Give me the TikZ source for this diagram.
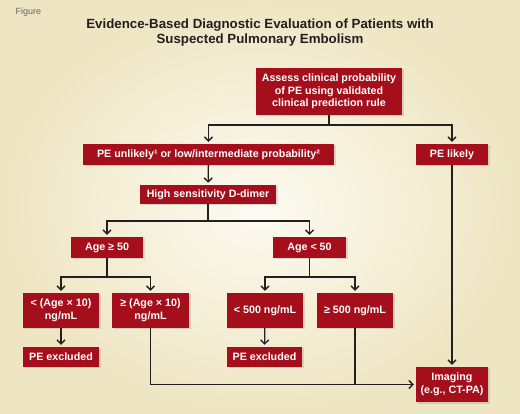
\documentclass[tikz,border=0pt]{standalone}
\usepackage{fontspec}
\setmainfont{Liberation Sans}
\usetikzlibrary{arrows.meta,shadows}

\definecolor{boxred}{HTML}{A50F1B}
\definecolor{linegray}{HTML}{231F20}
\definecolor{titlegray}{HTML}{231F20}
\definecolor{bglight}{HTML}{FDFBF1}
\definecolor{bgdark}{HTML}{EEE5C2}

\tikzset{
  stepbox/.style={fill=boxred, text=white, align=center, inner sep=0pt,
    font=\bfseries\fontsize{10.7}{12.5}\selectfont,
    drop shadow={opacity=0.25, shadow xshift=1.5pt, shadow yshift=-1.5pt}},
  link/.style={draw=linegray, line width=1.3pt},
  flow/.style={link, shorten >=2pt, -{Straight Barb[length=4pt,width=8pt]}},
}

\begin{document}
\begin{tikzpicture}[x=1pt, y=-1pt]
		\useasboundingbox (0,0) rectangle (520,414);
		\fill[inner color=bglight, outer color=bgdark] (0,0) rectangle (520,414);

		% heading
		\node[anchor=west, text=gray!80!black, font=\fontsize{9}{10}\selectfont] (fig) at (12,12) {Figure};
		\node[align=center, text=titlegray, font=\bfseries\fontsize{13.3}{15.5}\selectfont] (title) at (260,32.5)
			{Evidence-Based Diagnostic Evaluation of Patients with\\Suspected Pulmonary Embolism};

		% boxes
		\node[stepbox, minimum width=146pt, minimum height=47pt] (assess) at (329,91.5)
			{Assess clinical probability\\of PE using validated\\clinical prediction rule};
		\node[stepbox, minimum width=251pt, minimum height=21pt] (unlikely) at (208.5,154.5)
			{PE unlikely¹ or low/intermediate probability²};
		\node[stepbox, minimum width=72pt, minimum height=21pt] (likely) at (452,154.5) {PE likely};
		\node[stepbox, minimum width=136pt, minimum height=19pt] (ddimer) at (208,194.5) {High sensitivity D-dimer};
		\node[stepbox, minimum width=72pt, minimum height=21pt] (ageold) at (107,247.5) {Age ≥ 50};
		\node[stepbox, minimum width=73pt, minimum height=21pt] (ageyoung) at (309.5,247.5) {Age < 50};
		\node[stepbox, minimum width=76pt, minimum height=35pt] (lowold) at (61,310.5) {< (Age × 10)\\ng/mL};
		\node[stepbox, minimum width=77pt, minimum height=35pt] (highold) at (150.5,310.5) {≥ (Age × 10)\\ng/mL};
		\node[stepbox, minimum width=76pt, minimum height=35pt] (lowyoung) at (265,310.5) {< 500 ng/mL};
		\node[stepbox, minimum width=76pt, minimum height=35pt] (highyoung) at (355,310.5) {≥ 500 ng/mL};
		\node[stepbox, minimum width=76pt, minimum height=20pt] (exclold) at (61,357) {PE excluded};
		\node[stepbox, minimum width=75pt, minimum height=20pt] (exclyoung) at (264.5,357) {PE excluded};
		\node[stepbox, minimum width=72pt, minimum height=35pt] (imaging) at (452,384.5) {Imaging\\(e.g., CT-PA)};

		% branch points
		\coordinate (split1) at (329,125);
		\coordinate (split2) at (208,221);
		\coordinate (split3) at (107,277);
		\coordinate (split4) at (309.5,277);
		\coordinate (join) at (highyoung |- imaging);

		% connectors
		\draw[link] (assess) -- (split1);
		\draw[flow] (split1) -| (unlikely);
		\draw[flow] (split1) -| (likely);
		\draw[flow] (unlikely) -- (ddimer);
		\draw[link] (ddimer) -- (split2);
		\draw[flow] (split2) -| (ageold);
		\draw[flow] (split2) -| (ageyoung);
		\draw[link] (ageold) -- (split3);
		\draw[flow] (split3) -| (lowold);
		\draw[flow] (split3) -| (highold);
		\draw[link] (ageyoung) -- (split4);
		\draw[flow] (split4) -| (lowyoung);
		\draw[flow] (split4) -| (highyoung);
		\draw[flow] (lowold) -- (exclold);
		\draw[flow] (lowyoung) -- (exclyoung);
		\draw[flow] (highold) |- (imaging);
		\draw[link] (highyoung) -- (join);
		\draw[flow] (likely) -- (imaging);
	\end{tikzpicture}
\end{document}
